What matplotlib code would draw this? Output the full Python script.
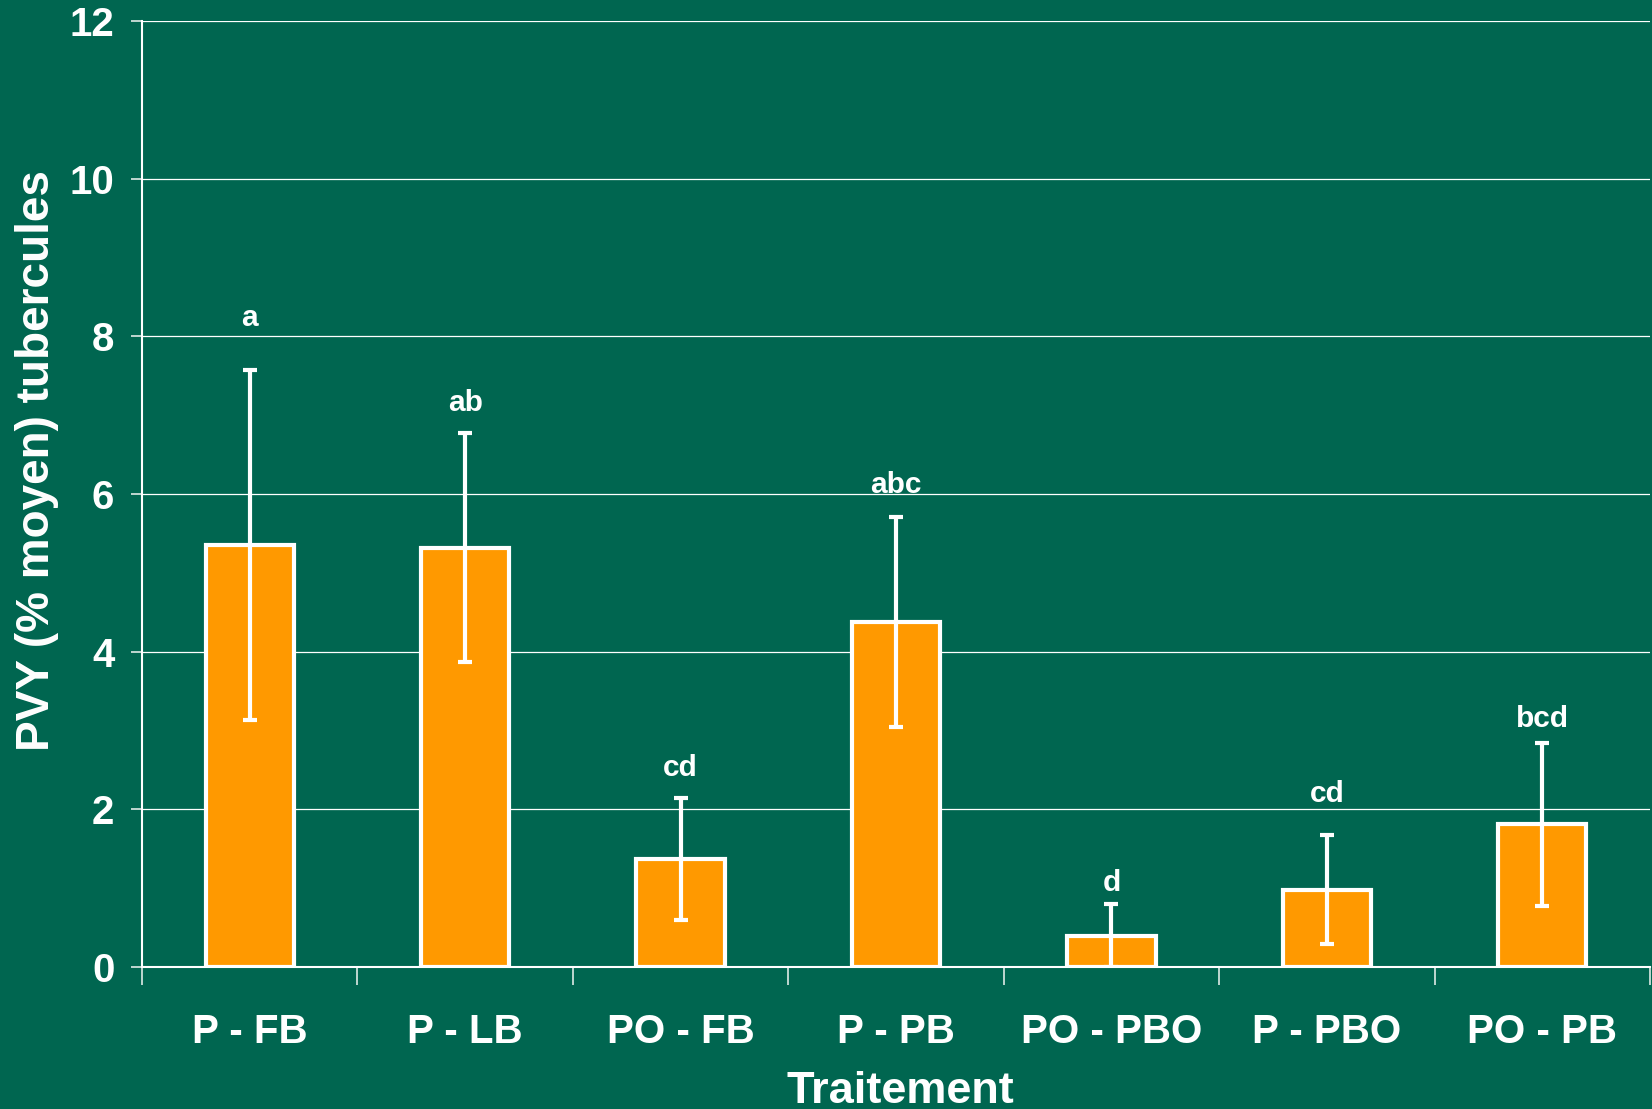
import matplotlib
matplotlib.use("Agg")
import matplotlib.pyplot as plt
from matplotlib.ticker import FixedLocator

plt.rcParams["font.family"] = ["Liberation Sans", "DejaVu Sans"]
plt.rcParams["font.weight"] = "bold"

# values
treatments = ["P - FB", "P - LB", "PO - FB", "P - PB", "PO - PBO", "P - PBO", "PO - PB"]
pvy_mean = [5.35, 5.32, 1.37, 4.38, 0.40, 0.98, 1.81]
pvy_err = [2.22, 1.45, 0.77, 1.33, 0.40, 0.69, 1.03]
groups = ["a", "ab", "cd", "abc", "d", "cd", "bcd"]
group_y = [8.23, 7.16, 2.53, 6.11, 1.07, 2.20, 3.15]

BG = "#006650"
ORANGE = "#FF9900"

fig = plt.figure(figsize=(16.52, 11.09), dpi=100, facecolor=BG)
ax = fig.add_axes([0.0860, 0.1280, 0.9128, 0.8530], facecolor=BG)

x = list(range(len(treatments)))
ax.bar(x, pvy_mean, width=0.41, color=ORANGE, edgecolor="white", linewidth=3, zorder=3)
ax.errorbar(x, pvy_mean, yerr=pvy_err, fmt="none", ecolor="white",
            elinewidth=3, capsize=5, capthick=3, zorder=4)

for xi, lab, yy in zip(x, groups, group_y):
    ax.text(xi, yy, lab, ha="center", va="center", color="white",
            fontsize=21.5, fontweight="bold")

ax.set_xlim(-0.5, len(treatments) - 0.5)
ax.set_ylim(0, 12)
ax.set_yticks(range(0, 13, 2))
ax.yaxis.grid(True, color="white", linewidth=0.9, zorder=0)
ax.set_axisbelow(True)

ax.set_xticks(x)
ax.set_xticklabels(treatments)
ax.xaxis.set_minor_locator(FixedLocator([i - 0.5 for i in range(len(treatments) + 1)]))
ax.tick_params(axis="x", which="major", length=0, pad=33, labelsize=29, colors="white")
ax.tick_params(axis="x", which="minor", length=13, width=1.2, color="#dfe9e6", direction="out")
ax.tick_params(axis="y", length=8, width=1.2, color="#dfe9e6", pad=12, labelsize=29,
               labelcolor="white")

for s in ("top", "right"):
    ax.spines[s].set_visible(False)
for s in ("left", "bottom"):
    ax.spines[s].set_color("white")
    ax.spines[s].set_linewidth(1.5)

ax.set_ylabel("PVY (% moyen) tubercules", fontsize=33, fontweight="bold", color="white")
ax.yaxis.set_label_coords(-0.0548, 0.535)
ax.set_xlabel("Traitement", fontsize=32.5, fontweight="bold", color="white")
ax.xaxis.set_label_coords(0.503, -0.110)

fig.savefig("out.png", dpi=100, facecolor=BG)
